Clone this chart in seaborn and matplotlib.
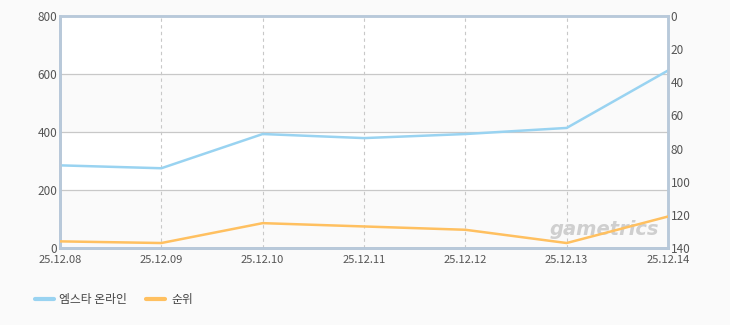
import matplotlib
matplotlib.use("Agg")
import matplotlib.pyplot as plt
import seaborn as sns
import pandas as pd
from matplotlib.lines import Line2D

dates = ["25.12.08", "25.12.09", "25.12.10", "25.12.11", "25.12.12", "25.12.13", "25.12.14"]
players = [285, 275, 393, 379, 393, 414, 612]
rank = [136, 137, 125, 127, 129, 137, 121]
series_players = "엠스타 온라인"
series_rank = "순위"
left_ticks = [0, 200, 400, 600, 800]
right_ticks = [0, 20, 40, 60, 80, 100, 120, 140]

sns.set_theme(style="white")
plt.rcParams['font.family'] = ['Noto Sans CJK KR', 'DejaVu Sans']

df = pd.DataFrame({"x": range(len(dates)), "players": players, "rank": rank})

fig = plt.figure(figsize=(7.3, 3.25), dpi=100, facecolor="#fafafa")
ax = fig.add_axes([60/730, 1-248/325, 608/730, 232/325])
ax.set_facecolor("white")

# alternating bands
for lo, hi in [(0, 200), (400, 600)]:
    ax.axhspan(lo, hi, color="#fafafa", zorder=0, lw=0)

sns.lineplot(data=df, x="x", y="players", ax=ax, color="#99d3f1", lw=1.8, zorder=3)
ax.set_xlim(0, len(dates) - 1)
ax.set_ylim(0, 800)
ax.set_yticks(left_ticks)
ax.set_xticks(range(len(dates)))
ax.set_xticklabels(dates)
for y in left_ticks[1:-1]:
    ax.axhline(y, color="#c8c8c8", lw=0.9, zorder=1)
for x in range(1, len(dates) - 1):
    ax.axvline(x, color="#c8c8c8", lw=0.8, ls=(0, (3, 3)), zorder=1)
ax.set_xlabel("")
ax.set_ylabel("")
ax.tick_params(axis="y", length=0, labelsize=8.5, colors="#555555", pad=2)
ax.tick_params(axis="x", length=0, labelsize=8, colors="#555555", pad=5)

ax2 = ax.twinx()
sns.lineplot(data=df, x="x", y="rank", ax=ax2, color="#ffc060", lw=1.8, zorder=3)
ax2.set_ylim(140, 0)
ax2.set_yticks(right_ticks)
ax2.set_xlim(0, len(dates) - 1)
ax2.set_ylabel("")
ax2.tick_params(axis="y", length=0, labelsize=8.5, colors="#555555", pad=2)

for a in (ax, ax2):
    for s in a.spines.values():
        s.set_color("#b8c9da")
        s.set_linewidth(1.8)
ax.spines["left"].set_color("#a8b8cc")
ax.spines["bottom"].set_color("#a8b8cc")

# watermark
ax2.text(0.985, 0.04, "gametrics", transform=ax.transAxes, ha="right", va="bottom",
         fontsize=14, fontstyle="italic", fontweight="bold", color="#cfcfcf",
         family=["DejaVu Sans"], zorder=2)

handles = [Line2D([0], [0], color="#99d3f1", lw=3),
           Line2D([0], [0], color="#ffc060", lw=3)]
fig.legend(handles, [series_players, series_rank], loc="center left",
           bbox_to_anchor=(24/730, 1-300/325), ncol=2, frameon=False,
           fontsize=8.5, handlelength=1.6, handletextpad=0.5, columnspacing=1.6,
           labelcolor="#444444")

fig.savefig("out.png", dpi=100, facecolor=fig.get_facecolor())
